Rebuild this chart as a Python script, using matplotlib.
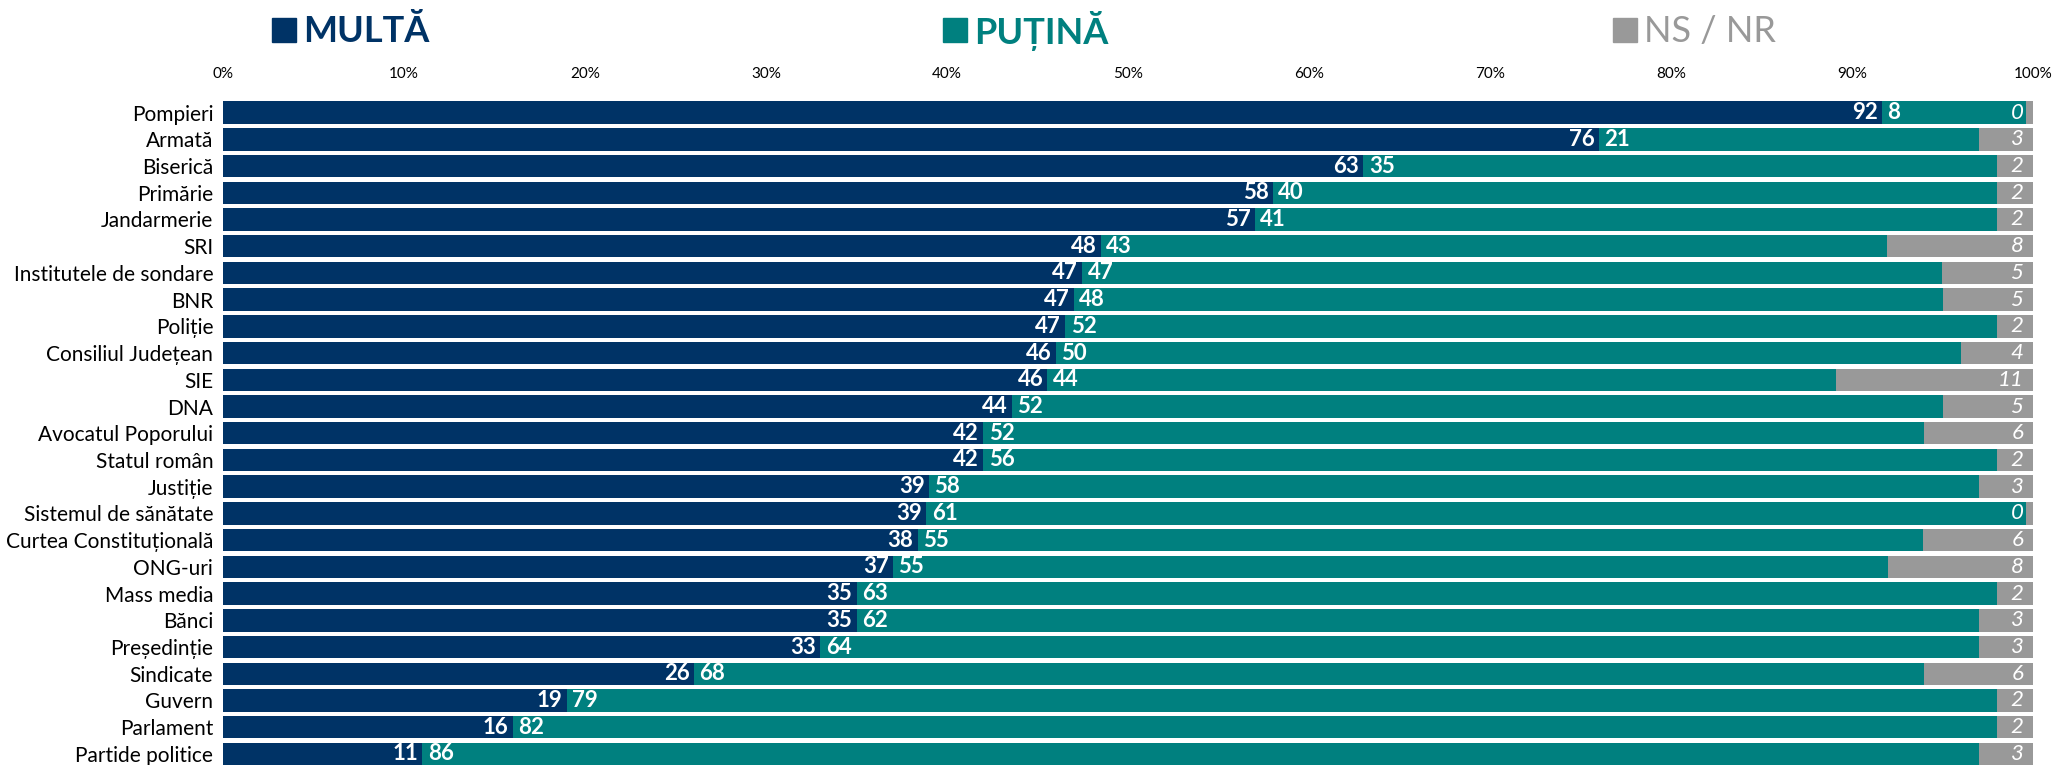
import matplotlib
matplotlib.use("Agg")
import matplotlib.pyplot as plt
from matplotlib.patches import Rectangle
from matplotlib.ticker import PercentFormatter
import numpy as np

plt.rcParams['font.family'] = ['Lato', 'DejaVu Sans']

# Date: încredere în instituții (%)
categories = ["Pompieri", "Armată", "Biserică", "Primărie", "Jandarmerie", "SRI",
              "Institutele de sondare", "BNR", "Poliție", "Consiliul Județean", "SIE",
              "DNA", "Avocatul Poporului", "Statul român", "Justiție",
              "Sistemul de sănătate", "Curtea Constituțională", "ONG-uri", "Mass media",
              "Bănci", "Președinție", "Sindicate", "Guvern", "Parlament", "Partide politice"]
multa = [92, 76, 63, 58, 57, 48, 47, 47, 47, 46, 46, 44, 42, 42, 39, 39, 38, 37, 35,
         35, 33, 26, 19, 16, 11]
putina = [8, 21, 35, 40, 41, 43, 47, 48, 52, 50, 44, 52, 52, 56, 58, 61, 55, 55, 63,
          62, 64, 68, 79, 82, 86]
ns_nr = [0.4, 3, 2, 2, 2, 8, 5, 5, 2, 4, 11, 5, 6, 2, 3, 0.4, 6, 8, 2, 3, 3, 6, 2, 2, 3]

series_names = ["MULTĂ", "PUȚINĂ", "NS / NR"]
colors = ["#003366", "#00807F", "#999999"]

m = np.array(multa, dtype=float)
p = np.array(putina, dtype=float)
n = np.array(ns_nr, dtype=float)
tot = m + p + n
m_w, p_w, n_w = m / tot * 100, p / tot * 100, n / tot * 100

fig = plt.figure(figsize=(20.53, 7.65), dpi=100)
ax = fig.add_axes([0.1086, -0.003, 0.8817, 0.8733])

y = np.arange(len(categories))
h = 0.84
ax.barh(y, m_w, height=h, color=colors[0])
ax.barh(y, p_w, left=m_w, height=h, color=colors[1])
ax.barh(y, n_w, left=m_w + p_w, height=h, color=colors[2])

for i in range(len(categories)):
    ax.annotate(f"{round(m[i])}", (m_w[i], y[i]), xytext=(-3, 0), textcoords="offset points",
                ha="right", va="center", color="white", fontweight="bold", fontsize=16)
    ax.annotate(f"{round(p[i])}", (m_w[i], y[i]), xytext=(4, 0), textcoords="offset points",
                ha="left", va="center", color="white", fontweight="bold", fontsize=16)
    ax.annotate(f"{round(n[i])}", (100, y[i]), xytext=(-7, 0), textcoords="offset points",
                ha="right", va="center", color="white", fontstyle="italic", fontsize=16)

ax.set_xlim(0, 100)
ax.set_ylim(len(categories) - 0.5, -0.5)
ax.set_yticks(y)
ax.set_yticklabels(categories)
ax.set_xticks(np.arange(0, 101, 10))
ax.xaxis.set_major_formatter(PercentFormatter(decimals=0))
ax.xaxis.tick_top()
ax.tick_params(axis="x", length=0, pad=13, labelsize=11)
ax.tick_params(axis="y", length=0, pad=7, labelsize=15)
for s in ax.spines.values():
    s.set_visible(False)

# legenda in partea de sus
leg_x = [272, 943, 1613]
W, H = 2053, 765
for name, c, x0 in zip(series_names, colors, leg_x):
    fig.patches.append(Rectangle((x0 / W, 1 - 42 / H), 24 / W, 24 / H,
                                 transform=fig.transFigure, color=c))
    fig.text((x0 + 31) / W, 1 - 31 / H, name, color=c, fontsize=26,
             fontweight="bold" if name != "NS / NR" else "normal", va="center", ha="left")

fig.savefig("out.png", dpi=100)
